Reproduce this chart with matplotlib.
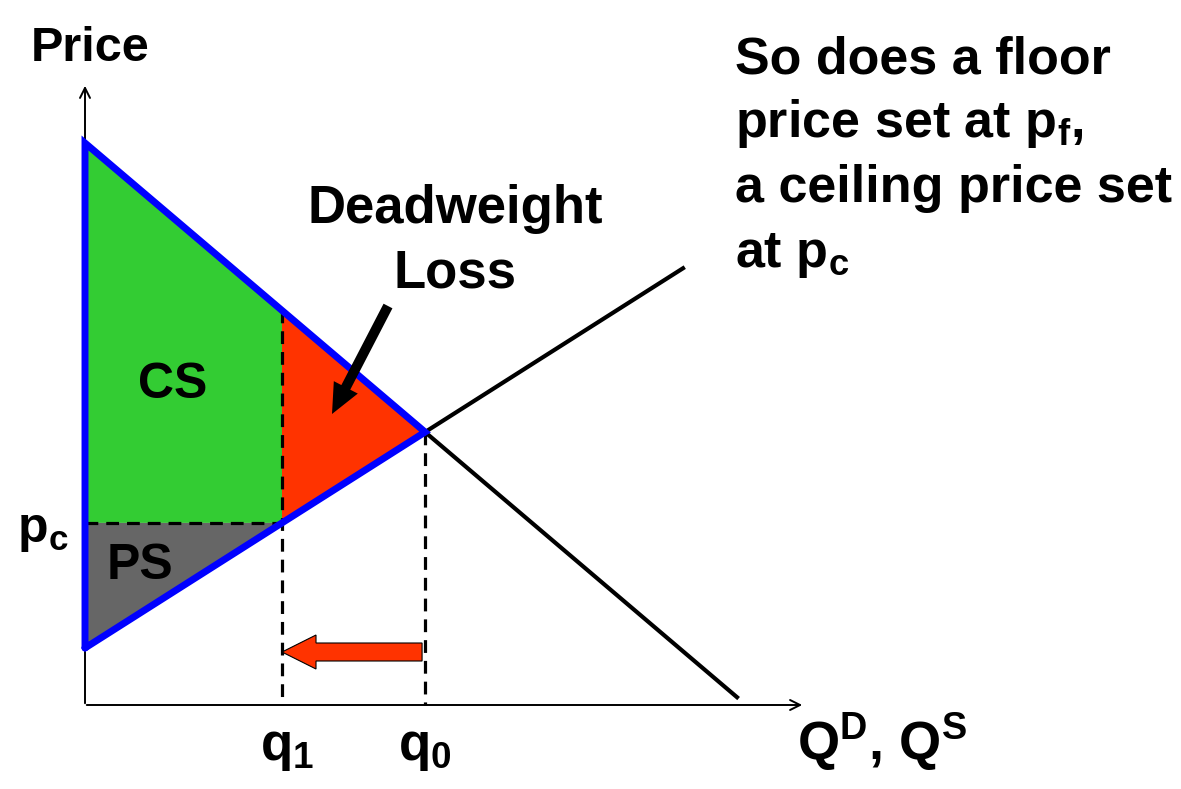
import numpy as np
import matplotlib.pyplot as plt
from matplotlib.patches import FancyArrow

plt.rcParams['mathtext.fontset'] = 'custom'
plt.rcParams['mathtext.rm'] = 'Liberation Sans:bold'
plt.rcParams['mathtext.it'] = 'Liberation Sans:bold'
plt.rcParams['mathtext.bf'] = 'Liberation Sans:bold'

# linear demand and supply, P = a + b*Q
demand_intercept = 56.2
demand_slope = -0.85
supply_intercept = 5.7
supply_slope = 0.635
q1 = 19.7            # quantity traded under the ceiling
q_demand_end = 65.2
q_supply_end = 59.8

q0 = (demand_intercept - supply_intercept) / (supply_slope - demand_slope)
p0 = demand_intercept + demand_slope * q0
pc = supply_intercept + supply_slope * q1
pd1 = demand_intercept + demand_slope * q1

green = '#33CC33'
gray = '#666666'
red = '#FF3300'
blue = '#0000FF'
font = dict(family='Liberation Sans', fontweight='bold', color='black')

fig = plt.figure(figsize=(11.81, 7.89), dpi=100)
ax = fig.add_axes([0, 0, 1, 1])
ax.set_xlim(-8.5, 109.6)
ax.set_ylim(-8.4, 70.5)
ax.axis('off')

# axes with arrows
ax.annotate('', xy=(72, 0), xytext=(-0.1, 0),
            arrowprops=dict(arrowstyle='->', lw=1.4, color='black', mutation_scale=18))
ax.annotate('', xy=(0, 62.2), xytext=(0, -0.1),
            arrowprops=dict(arrowstyle='->', lw=1.4, color='black', mutation_scale=18))

# surplus areas
ax.fill([0, q1, q1, 0], [demand_intercept, pd1, pc, pc], color=green, lw=0, zorder=2)
ax.fill([q1, q0, q1], [pd1, p0, pc], color=red, lw=0, zorder=2)
ax.fill([0, q1, 0], [pc, pc, supply_intercept], color=gray, lw=0, zorder=2)

# curves beyond equilibrium
ax.plot([q0, q_demand_end], [p0, demand_intercept + demand_slope * q_demand_end],
        color='black', lw=3, zorder=3)
ax.plot([q0, q_supply_end], [p0, supply_intercept + supply_slope * q_supply_end],
        color='black', lw=3, zorder=3)

# dashed guides
dash = dict(color='black', lw=2.3, ls=(0, (4, 2.5)), zorder=3)
ax.plot([0, q1], [pc, pc], **dash)
ax.plot([q1, q1], [pd1, 0], **dash)
ax.plot([q0, q0], [p0, 0], **dash)

# blue outline of total surplus triangle
ax.plot([0, 0, q0, 0], [supply_intercept, demand_intercept, p0, supply_intercept],
        color=blue, lw=5, solid_joinstyle='miter', solid_capstyle='round', zorder=4)

# red arrow: quantity falls from q0 to q1
arrow_y = 5.3
ax.add_patch(FancyArrow(q0 - 0.3, arrow_y, q1 - q0 + 0.3, 0, width=1.8, head_width=3.4,
                        head_length=3.4, length_includes_head=True,
                        fc=red, ec='black', lw=0.8, zorder=5))

# black arrow pointing at deadweight loss
ax.add_patch(FancyArrow(30.3, 39.9, -5.6, -10.8, width=1.0, head_width=2.7,
                        head_length=3.0, length_includes_head=True,
                        fc='black', ec='black', lw=0, zorder=5))

# labels
ax.text(-5.4, 64.4, 'Price', fontsize=35, ha='left', va='baseline', **font)
ax.text(71.2, -5.5, r'Q$^\mathrm{D}$, Q$^\mathrm{S}$', fontsize=39, ha='left', va='baseline', **font)
ax.text(17.5, -5.5, r'q$_\mathrm{1}$', fontsize=38, ha='left', va='baseline', **font)
ax.text(31.3, -5.5, r'q$_\mathrm{0}$', fontsize=38, ha='left', va='baseline', **font)
ax.text(-6.8, 16.3, r'p$_\mathrm{c}$', fontsize=36, ha='left', va='baseline', **font)
ax.text(8.8, 32.0, 'CS', fontsize=36, ha='center', va='center', zorder=6, **font)
ax.text(5.55, 13.9, 'PS', fontsize=36, ha='center', va='center', zorder=6, **font)
ax.text(37.0, 48.2, 'Deadweight', fontsize=38, ha='center', va='baseline', **font)
ax.text(37.0, 41.8, 'Loss', fontsize=38, ha='center', va='baseline', **font)

note = ['So does a floor', r'price set at p$_\mathrm{f}$,',
        'a ceiling price set', r'at p$_\mathrm{c}$']
for i, line in enumerate(note):
    ax.text(65.0, 63.2 - 6.45 * i, line, fontsize=37.5, ha='left', va='baseline', **font)

fig.savefig('out.png', dpi=100)
